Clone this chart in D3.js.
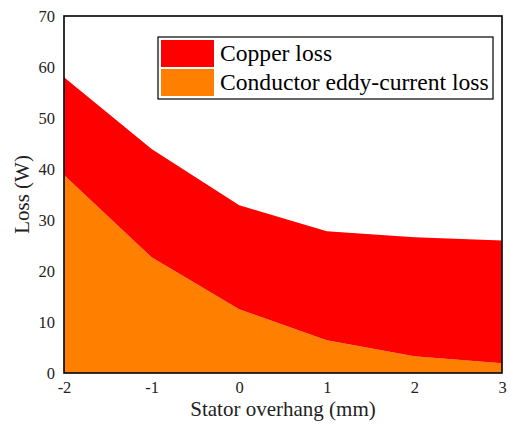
<!DOCTYPE html>
<html>
<head>
<meta charset="utf-8">
<script src="https://cdn.jsdelivr.net/npm/d3@7"></script>
<style>
  body { margin: 0; background: #fff; }
</style>
</head>
<body>
<svg id="chart"></svg>
<script>
// stator overhang (mm)
const overhang = [-2, -1, 0, 1, 2, 3];
// losses (W)
const eddyLoss = [38.8, 22.7, 12.5, 6.4, 3.3, 1.9];
const copperLoss = [19.2, 21.2, 20.4, 21.4, 23.3, 24.1];
const yTicks = [0, 10, 20, 30, 40, 50, 60, 70];
const seriesNames = ['Conductor eddy-current loss', 'Copper loss'];
const legendItems = ['Copper loss', 'Conductor eddy-current loss'];
const colors = {'Copper loss': '#ff0000', 'Conductor eddy-current loss': '#ff8000'};

const FONT = 'Liberation Serif';

const config = {
  width: 510, height: 430,
  margin: {top: 16, right: 8, bottom: 57, left: 64}
};
const width = config.width - config.margin.left - config.margin.right;
const height = config.height - config.margin.top - config.margin.bottom;

const svg = d3.select('#chart')
    .attr('width', config.width)
    .attr('height', config.height)
    .attr('font-family', FONT);

const chart = svg.append('g')
    .attr('transform', `translate(${config.margin.left},${config.margin.top})`);

const xScale = d3.scaleLinear().domain([-2, 3]).range([0, width]);
const yScale = d3.scaleLinear().domain([0, 70]).range([height, 0]);

// table for stacking
const table = overhang.map((x, i) => ({
  x: x,
  'Conductor eddy-current loss': eddyLoss[i],
  'Copper loss': copperLoss[i]
}));
const stacked = d3.stack().keys(seriesNames)(table);

const area = d3.area()
    .x(d => xScale(d.data.x))
    .y0(d => yScale(d[0]))
    .y1(d => yScale(d[1]));

chart.selectAll('.layer')
    .data(stacked)
  .join('path')
    .attr('class', 'layer')
    .attr('fill', d => colors[d.key])
    .attr('d', area);

// axes
const xAxis = d3.axisBottom(xScale).tickValues(overhang).tickSize(0).tickPadding(8).tickFormat(d => String(d));
const yAxis = d3.axisLeft(yScale).tickValues(yTicks).tickSize(0).tickPadding(9);

const xAxisG = chart.append('g')
    .attr('transform', `translate(0,${height})`)
    .call(xAxis);
const yAxisG = chart.append('g').call(yAxis);

[xAxisG, yAxisG].forEach(g => {
  g.attr('font-family', FONT).attr('font-size', 16.5);
  g.select('.domain').remove();
  g.selectAll('text')
      .attr('font-family', FONT)
      .attr('fill', '#222');
});
xAxisG.selectAll('text').attr('dy', '0.7em');

// frame
chart.append('rect')
    .attr('width', width)
    .attr('height', height)
    .attr('fill', 'none')
    .attr('stroke', '#000')
    .attr('stroke-width', 1.6);

// axis titles
svg.append('text')
    .attr('x', config.margin.left + width / 2)
    .attr('y', 416)
    .attr('text-anchor', 'middle')
    .attr('font-family', FONT)
    .attr('font-size', 21)
    .attr('fill', '#222')
    .text('Stator overhang (mm)');

svg.append('text')
    .attr('transform', `translate(29,${config.margin.top + height / 2}) rotate(-90)`)
    .attr('text-anchor', 'middle')
    .attr('font-family', FONT)
    .attr('font-size', 21)
    .attr('fill', '#222')
    .text('Loss (W)');

// legend
const legend = svg.append('g').attr('transform', 'translate(158,37)');
legend.append('rect')
    .attr('width', 335)
    .attr('height', 62)
    .attr('fill', '#fff')
    .attr('stroke', '#000')
    .attr('stroke-width', 1.2);

const rows = legend.selectAll('.legend-row')
    .data(legendItems)
  .join('g')
    .attr('class', 'legend-row')
    .attr('transform', (d, i) => `translate(3,${3 + i * 29})`);

rows.append('rect')
    .attr('width', 53)
    .attr('height', 27)
    .attr('fill', d => colors[d]);

rows.append('text')
    .attr('x', 59)
    .attr('y', 21)
    .attr('font-family', FONT)
    .attr('font-size', 23.6)
    .attr('fill', '#000')
    .text(d => d);
</script>
</body>
</html>
